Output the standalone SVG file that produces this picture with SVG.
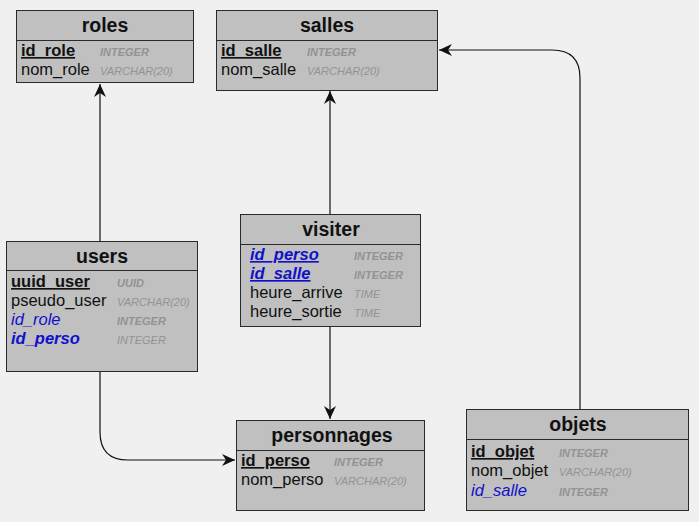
<svg xmlns="http://www.w3.org/2000/svg" width="699" height="522" viewBox="0 0 699 522">
<style>
.box{fill:#c0c0c0;stroke:#2a2a2a;stroke-width:1}
.sep{stroke:#2a2a2a;stroke-width:1}
.title{font-family:"Liberation Sans",Arial,sans-serif;font-weight:bold;font-size:19.5px;fill:#111;text-anchor:middle}
.f{font-family:"Liberation Sans",Arial,sans-serif;font-size:16.5px;fill:#111}
.pk{font-weight:bold;text-decoration:underline}
.fk{fill:#1010cc;font-style:italic}
.fkb{fill:#1010cc;font-style:italic;font-weight:bold}
.pfk{fill:#1010cc;font-style:italic;font-weight:bold;text-decoration:underline}
.t{font-family:"Liberation Sans",Arial,sans-serif;font-size:11px;font-style:italic;fill:#939393}
.tb{font-weight:bold}
.c{fill:none;stroke:#111;stroke-width:1.2}
</style>
<defs>
<marker id="arr" markerWidth="14" markerHeight="12" refX="13" refY="6" orient="auto" markerUnits="userSpaceOnUse">
<path d="M0,0 L13,6 L0,12 L4,6 Z" fill="#111"/>
</marker>
</defs>
<rect x="0" y="0" width="699" height="522" fill="#f0f0f0"/>
<g id="connectors">
<path class="c" d="M100,241 L100,84" marker-end="url(#arr)"/>
<path class="c" d="M330,214 L330,91" marker-end="url(#arr)"/>
<path class="c" d="M330,326 L330,419" marker-end="url(#arr)"/>
<path class="c" d="M580,409 L580,78 Q580,50 552,50 L439,50" marker-end="url(#arr)"/>
<path class="c" d="M100,371 L100,432 Q100,460 128,460 L235,460" marker-end="url(#arr)"/>
</g>
<g id="roles">
<rect class="box" x="16.5" y="10.5" width="177" height="72"/>
<line class="sep" x1="16.5" y1="40.5" x2="193.5" y2="40.5"/>
<text class="title" x="105" y="32">roles</text>
<text class="f pk" x="21" y="56">id_role</text>
<text class="t tb" x="100" y="56">INTEGER</text>
<text class="f" x="21" y="75">nom_role</text>
<text class="t" x="100" y="75">VARCHAR(20)</text>
</g>
<g id="salles">
<rect class="box" x="216.5" y="10.5" width="221" height="80"/>
<line class="sep" x1="216.5" y1="40.5" x2="437.5" y2="40.5"/>
<text class="title" x="327" y="32">salles</text>
<text class="f pk" x="221" y="56">id_salle</text>
<text class="t tb" x="307" y="56">INTEGER</text>
<text class="f" x="221" y="75">nom_salle</text>
<text class="t" x="307" y="75">VARCHAR(20)</text>
</g>
<g id="users">
<rect class="box" x="6.5" y="241.5" width="191" height="130"/>
<line class="sep" x1="6.5" y1="270.5" x2="197.5" y2="270.5"/>
<text class="title" x="102" y="263">users</text>
<text class="f pk" x="11" y="287">uuid_user</text>
<text class="t tb" x="117" y="287">UUID</text>
<text class="f" x="11" y="306">pseudo_user</text>
<text class="t" x="117" y="306">VARCHAR(20)</text>
<text class="f fk" x="11" y="325">id_role</text>
<text class="t tb" x="117" y="325">INTEGER</text>
<text class="f fkb" x="11" y="344">id_perso</text>
<text class="t" x="117" y="344">INTEGER</text>
</g>
<g id="visiter">
<rect class="box" x="240.5" y="214.5" width="180" height="112"/>
<line class="sep" x1="240.5" y1="244.5" x2="420.5" y2="244.5"/>
<text class="title" x="331" y="236">visiter</text>
<text class="f pfk" x="250" y="260">id_perso</text>
<text class="t tb" x="354" y="260">INTEGER</text>
<text class="f pfk" x="250" y="279">id_salle</text>
<text class="t tb" x="354" y="279">INTEGER</text>
<text class="f" x="250" y="298">heure_arrive</text>
<text class="t" x="354" y="298">TIME</text>
<text class="f" x="250" y="317">heure_sortie</text>
<text class="t" x="354" y="317">TIME</text>
</g>
<g id="personnages">
<rect class="box" x="236.5" y="420.5" width="188" height="90"/>
<line class="sep" x1="236.5" y1="450.5" x2="424.5" y2="450.5"/>
<text class="title" x="332" y="442">personnages</text>
<text class="f pk" x="241" y="466">id_perso</text>
<text class="t tb" x="334" y="466">INTEGER</text>
<text class="f" x="241" y="485">nom_perso</text>
<text class="t" x="334" y="485">VARCHAR(20)</text>
</g>
<g id="objets">
<rect class="box" x="466.5" y="409.5" width="222" height="101"/>
<line class="sep" x1="466.5" y1="439.5" x2="688.5" y2="439.5"/>
<text class="title" x="578" y="431">objets</text>
<text class="f pk" x="471" y="457">id_objet</text>
<text class="t tb" x="559" y="457">INTEGER</text>
<text class="f" x="471" y="476">nom_objet</text>
<text class="t" x="559" y="476">VARCHAR(20)</text>
<text class="f fk" x="471" y="496">id_salle</text>
<text class="t tb" x="559" y="496">INTEGER</text>
</g>
</svg>
